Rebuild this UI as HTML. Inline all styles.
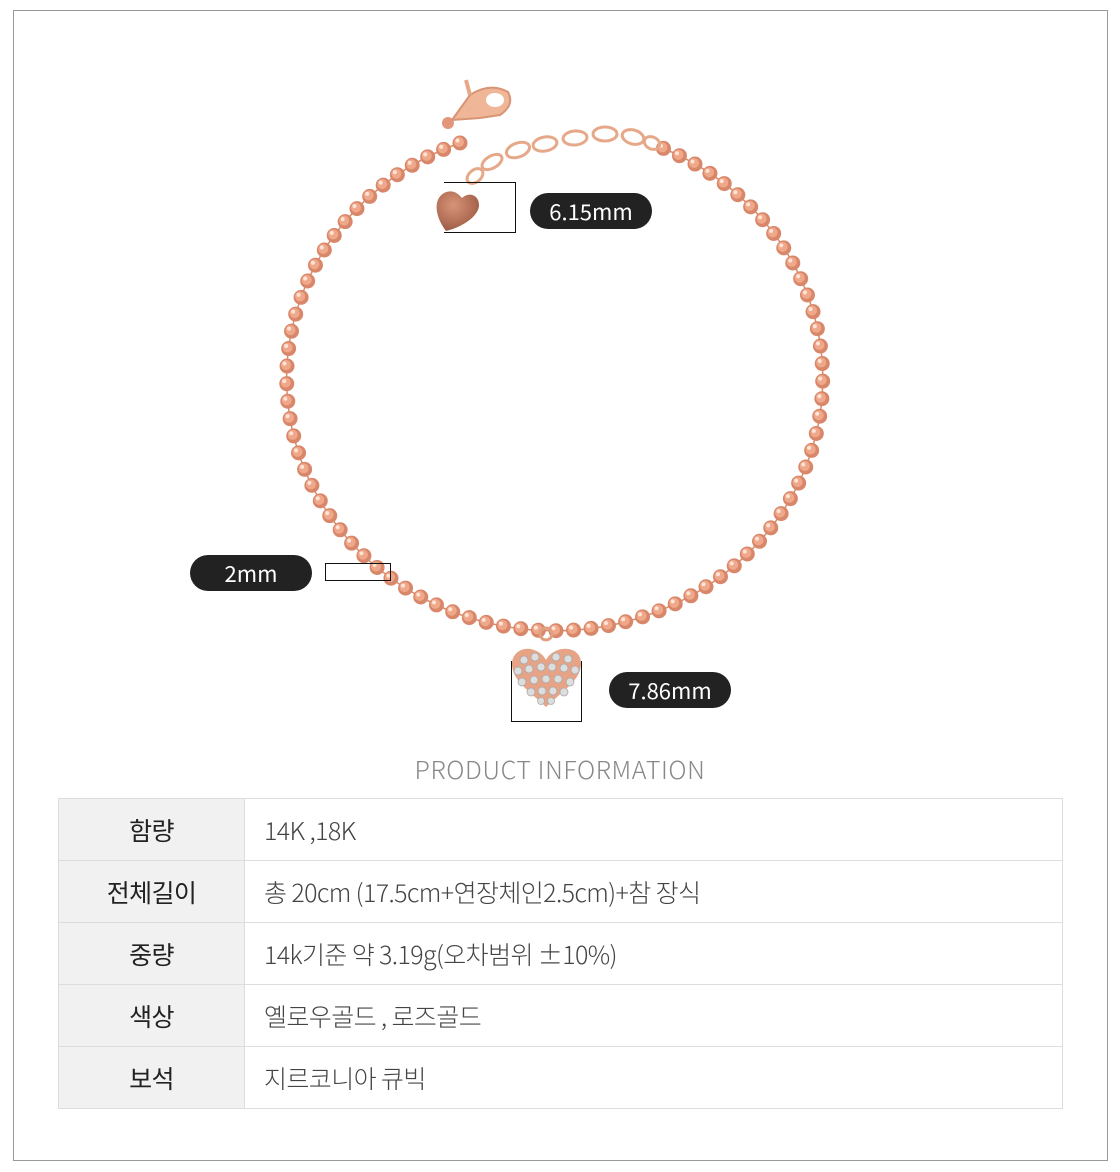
<!DOCTYPE html>
<html><head><meta charset="utf-8"><style>
body{margin:0;width:1120px;height:1172px;background:#fff;position:relative;overflow:hidden;font-family:"Liberation Sans","Noto Sans CJK KR",sans-serif}
.frame{position:absolute;left:13px;top:10px;width:1093px;height:1149px;border:1px solid #999}
.pill{position:absolute;background:#222;color:#fff;border-radius:18px;height:36px;line-height:36px;text-align:center;font-size:22px;font-family:"Noto Sans CJK KR","Liberation Sans",sans-serif}
.box{position:absolute;border:1px solid #111}
.title{position:absolute;left:0;width:1120px;top:754px;text-align:center;color:#888;font-size:25px;font-family:"Noto Sans CJK KR",sans-serif;font-weight:300;letter-spacing:0.6px;line-height:30px}
table{position:absolute;left:58px;top:798px;width:1005px;border-collapse:collapse;font-family:"Noto Sans CJK KR",sans-serif}
td{border:1px solid #ddd;height:61px;padding:0;font-size:25px;letter-spacing:-0.6px;color:#333}
td.h{width:185px;background:#f1f1f1;text-align:center;font-weight:400;color:#222}
td.v{padding-left:19px;font-weight:300;color:#444}
</style></head><body>
<div class="frame"></div>
<svg width="1120" height="760" style="position:absolute;left:0;top:0">
<defs>
<radialGradient id="hg" cx="0.4" cy="0.35" r="0.7"><stop offset="0" stop-color="#d89478"/><stop offset="1" stop-color="#9c5a44"/></radialGradient>
</defs>
<path d="M460,143 A268 252 0 1 0 660,147" fill="none" stroke="#d98a68" stroke-width="1.5"/>
<path d="M460,143 A268 252 0 1 0 660,147" fill="none" stroke="#d9876a" stroke-width="15" stroke-linecap="round" stroke-dasharray="0 17.6"/>
<path d="M460,143 A268 252 0 1 0 660,147" fill="none" stroke="#f0a88a" stroke-width="10" stroke-linecap="round" stroke-dasharray="0 17.6" transform="translate(-1,-1)"/>
<path d="M460,143 A268 252 0 1 0 660,147" fill="none" stroke="#fde4d6" stroke-width="4" stroke-linecap="round" stroke-dasharray="0 17.6" transform="translate(-2.5,-2.5)"/>
<g fill="none" stroke="#e6a888" stroke-width="3">
<ellipse cx="475" cy="176" rx="9" ry="6" transform="rotate(-40 475 176)"/>
<ellipse cx="492" cy="162" rx="11" ry="6" transform="rotate(-30 492 162)"/>
<ellipse cx="518" cy="150" rx="12" ry="7" transform="rotate(-20 518 150)"/>
<ellipse cx="545" cy="144" rx="12" ry="7" transform="rotate(-10 545 144)"/>
<ellipse cx="575" cy="138" rx="12" ry="7" transform="rotate(-5 575 138)"/>
<ellipse cx="605" cy="134" rx="12" ry="7"/>
<ellipse cx="633" cy="137" rx="11" ry="7" transform="rotate(15 633 137)"/>
<ellipse cx="652" cy="143" rx="8" ry="6" transform="rotate(25 652 143)"/>
</g>
<path d="M452,120 L470,95 Q490,82 508,92 Q515,105 500,115 L480,118 Z" fill="#f0b698" stroke="#d89474" stroke-width="2"/>
<ellipse cx="495" cy="100" rx="9" ry="7" fill="#fff"/>
<line x1="470" y1="95" x2="466" y2="80" stroke="#e6a888" stroke-width="4"/>
<circle cx="448" cy="123" r="6" fill="#e2967a"/>
<path d="M446,231 C436,218 432,200 444,193 C452,189 458,193 462,198 C468,192 478,194 479,204 C480,214 466,226 446,231 Z" fill="url(#hg)"/>
<circle cx="546" cy="634" r="6" fill="none" stroke="#e0a080" stroke-width="3"/>
<path d="M546,707 C528,690 512,680 512,664 C512,652 524,646 534,650 C540,652 544,656 546,660 C548,656 552,652 558,650 C570,646 582,652 581,665 C580,680 564,690 546,707 Z" fill="#e6a385"/>
<g fill="#ddd" stroke="#aaa" stroke-width="0.8">
<circle cx="524" cy="660" r="4"/><circle cx="535" cy="657" r="4"/><circle cx="556" cy="657" r="4"/><circle cx="568" cy="659" r="4"/>
<circle cx="518" cy="671" r="4"/><circle cx="529" cy="669" r="4"/><circle cx="541" cy="667" r="4"/><circle cx="552" cy="667" r="4"/><circle cx="564" cy="668" r="4"/><circle cx="575" cy="670" r="4"/>
<circle cx="522" cy="682" r="4"/><circle cx="534" cy="680" r="4"/><circle cx="546" cy="679" r="4"/><circle cx="558" cy="679" r="4"/><circle cx="570" cy="682" r="4"/>
<circle cx="531" cy="692" r="4"/><circle cx="542" cy="691" r="4"/><circle cx="553" cy="691" r="4"/><circle cx="564" cy="692" r="4"/>
<circle cx="541" cy="701" r="3.5"/><circle cx="551" cy="701" r="3.5"/>
</g>
</svg>
<div class="box" style="left:444px;top:182px;width:71px;height:49px;border-left:none"></div>
<div class="box" style="left:325px;top:563px;width:64px;height:16px"></div>
<div class="box" style="left:511px;top:661px;width:69px;height:60px;border-top:none"></div>
<div class="pill" style="left:530px;top:193px;width:122px">6.15mm</div>
<div class="pill" style="left:190px;top:555px;width:122px">2mm</div>
<div class="pill" style="left:609px;top:672px;width:122px">7.86mm</div>
<div class="title">PRODUCT INFORMATION</div>
<table>
<tr><td class="h">함량</td><td class="v">14K ,18K</td></tr>
<tr><td class="h">전체길이</td><td class="v">총 20cm (17.5cm+연장체인2.5cm)+참 장식</td></tr>
<tr><td class="h">중량</td><td class="v">14k기준 약 3.19g(오차범위 ±10%)</td></tr>
<tr><td class="h">색상</td><td class="v">옐로우골드 , 로즈골드</td></tr>
<tr><td class="h">보석</td><td class="v">지르코니아 큐빅</td></tr>
</table>
</body></html>
